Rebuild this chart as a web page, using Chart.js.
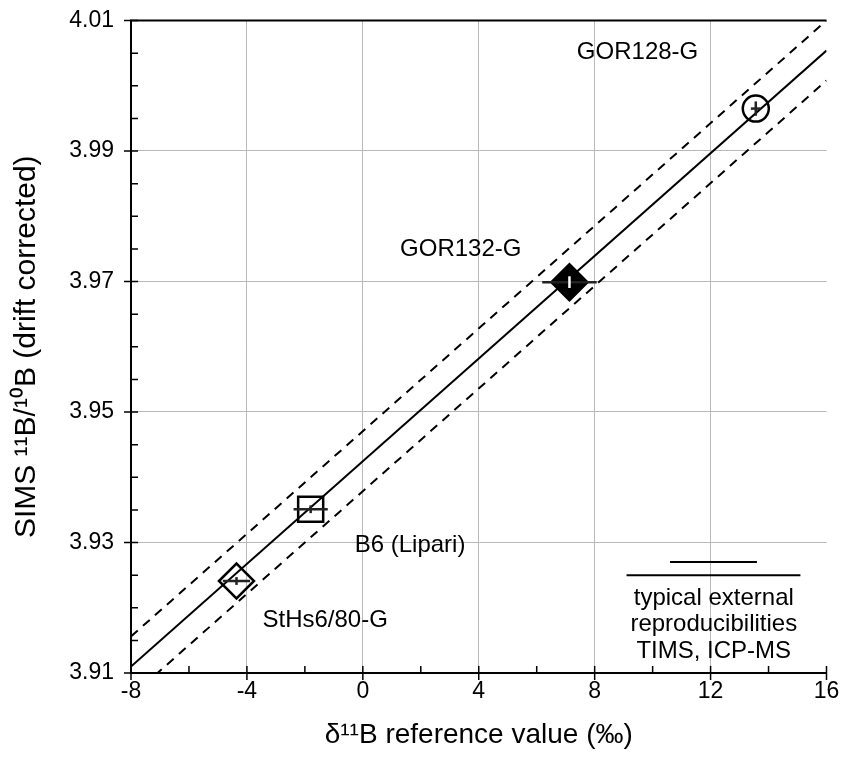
<!DOCTYPE html>
<html><head><meta charset="utf-8">
<script src="https://cdn.jsdelivr.net/npm/chart.js@4/dist/chart.umd.min.js"></script>
<style>html,body{margin:0;padding:0;background:#fff;}canvas{display:block;}</style>
</head><body>
<canvas id="c" width="847" height="760"></canvas>
<script>
// ---- data ----
const sampleNames = ['StHs6/80-G', 'B6 (Lipari)', 'GOR132-G', 'GOR128-G'];
const refDelta    = [-4.36, -1.80, 7.13, 13.56];          // δ11B reference value (‰)
const simsRatio   = [3.9241, 3.9351, 3.9699, 3.9965];     // SIMS 11B/10B (drift corrected)
const deltaErr    = [0.47, 0.59, 0.94, 0.17];
const ratioErr    = [0.0006, 0.0006, 0.0009, 0.0011];
const markerStyle = ['rectRot', 'rect', 'rectRot', 'circle'];
const markerFill  = [false, false, true, false];

const lineX  = [-8, 16];
const fitY   = [3.911, 4.0054];
const upperY = [3.9156, 4.0100];
const lowerY = [3.9064, 4.0008];

const reproShortX = [10.6, 13.6];
const reproShortY = 3.9270;
const reproLongX  = [9.1, 15.1];
const reproLongY  = 3.9250;
const reproText   = ['typical external', 'reproducibilities', 'TIMS, ICP-MS'];
const reproTextX  = 12.11;
const reproTextY  = [3.9215, 3.9174, 3.9133];

const labelX = [-1.3, 1.63, 3.38, 9.48];
const labelY = [3.9180, 3.9296, 3.9749, 4.0051];

const xTicks = [-8, -4, 0, 4, 8, 12, 16];
const xMinor = [-6, -2, 2, 6, 10, 14];
const yTicks = [3.91, 3.93, 3.95, 3.97, 3.99, 4.01];
const yMinor = [3.915, 3.92, 3.925, 3.935, 3.94, 3.945, 3.955, 3.96, 3.965, 3.975, 3.98, 3.985, 3.995, 4.0, 4.005];

const FONT = "'Liberation Sans', Arial, Helvetica, sans-serif";

const pts = (xs, ys) => xs.map((x, i) => ({x: x, y: Array.isArray(ys) ? ys[i] : ys}));

const decor = {
  id: 'decor',
  afterDatasetsDraw(chart) {
    const c = chart.ctx, xs = chart.scales.x, ys = chart.scales.y, a = chart.chartArea;
    c.save();
    // top border
    c.strokeStyle = '#000'; c.lineWidth = 2;
    c.beginPath(); c.moveTo(a.left - 1, a.top); c.lineTo(a.right, a.top); c.stroke();
    // ticks
    c.lineWidth = 1.5;
    c.beginPath();
    xTicks.forEach(v => { const p = xs.getPixelForValue(v); c.moveTo(p, a.bottom + 7); c.lineTo(p, a.bottom - 7); });
    xMinor.forEach(v => { const p = xs.getPixelForValue(v); c.moveTo(p, a.bottom); c.lineTo(p, a.bottom - 7); });
    yTicks.forEach(v => { const p = ys.getPixelForValue(v); c.moveTo(a.left - 7, p); c.lineTo(a.left + 7, p); });
    yMinor.forEach(v => { const p = ys.getPixelForValue(v); c.moveTo(a.left, p); c.lineTo(a.left + 7, p); });
    c.stroke();
    // error bars
    c.lineWidth = 2.5;
    refDelta.forEach((x, i) => {
      const px = xs.getPixelForValue(x), py = ys.getPixelForValue(simsRatio[i]);
      c.strokeStyle = '#222';
      c.beginPath();
      c.moveTo(xs.getPixelForValue(x - deltaErr[i]), py);
      c.lineTo(xs.getPixelForValue(x + deltaErr[i]), py);
      c.stroke();
      c.strokeStyle = markerFill[i] ? '#fff' : '#222';
      c.beginPath();
      c.moveTo(px, ys.getPixelForValue(simsRatio[i] - ratioErr[i]));
      c.lineTo(px, ys.getPixelForValue(simsRatio[i] + ratioErr[i]));
      c.stroke();
    });
    // text
    c.fillStyle = '#000';
    c.font = '24px ' + FONT;
    c.textAlign = 'center'; c.textBaseline = 'middle';
    sampleNames.forEach((n, i) => c.fillText(n, xs.getPixelForValue(labelX[i]), ys.getPixelForValue(labelY[i])));
    reproText.forEach((t, i) => c.fillText(t, xs.getPixelForValue(reproTextX), ys.getPixelForValue(reproTextY[i])));
    c.restore();
  }
};

const gridColor = (ctx, ends) => (ctx.tick && ends.includes(ctx.tick.value)) ? 'rgba(0,0,0,0)' : '#b8b8b8';

new Chart(document.getElementById('c'), {
  type: 'scatter',
  data: {
    datasets: [
      { type: 'line', label: 'fit', data: pts(lineX, fitY), borderColor: '#000', borderWidth: 2, pointRadius: 0, fill: false, clip: 0 },
      { type: 'line', label: 'upper', data: pts(lineX, upperY), borderColor: '#000', borderWidth: 2, borderDash: [9, 7], pointRadius: 0, fill: false, clip: 0 },
      { type: 'line', label: 'lower', data: pts(lineX, lowerY), borderColor: '#000', borderWidth: 2, borderDash: [9, 7], pointRadius: 0, fill: false, clip: 0 },
      { type: 'line', label: 'repro short', data: pts(reproShortX, reproShortY), borderColor: '#000', borderWidth: 2, pointRadius: 0, fill: false },
      { type: 'line', label: 'repro long', data: pts(reproLongX, reproLongY), borderColor: '#000', borderWidth: 2, pointRadius: 0, fill: false },
      { type: 'scatter', label: 'samples', data: pts(refDelta, simsRatio),
        pointStyle: markerStyle, pointRadius: [17.5, 17.7, 18, 13],
        pointBorderWidth: 2.5, pointBorderColor: '#000',
        pointBackgroundColor: markerFill.map(f => f ? '#000' : 'rgba(0,0,0,0)'), clip: false }
    ]
  },
  options: {
    responsive: false, animation: false, devicePixelRatio: 1,
    layout: { padding: { left: 9, right: 16, top: 13, bottom: 8 } },
    plugins: { legend: { display: false }, tooltip: { enabled: false } },
    scales: {
      x: {
        type: 'linear', min: -8, max: 16,
        afterBuildTicks: s => { s.ticks = xTicks.map(v => ({ value: v })); },
        afterFit: s => { s.height = 760 - 8 - 673; s.paddingLeft = 0; s.paddingRight = 0; },
        ticks: { color: '#000', font: { family: FONT, size: 23 }, padding: 5, maxRotation: 0, callback: v => String(v) },
        grid: { color: c => gridColor(c, [-8, 16]), lineWidth: 1, drawTicks: false },
        border: { display: true, color: '#000', width: 2 },
        title: { display: true, text: 'δ¹¹B reference value (‰)', color: '#000', font: { family: FONT, size: 28 }, padding: 0 }
      },
      y: {
        type: 'linear', min: 3.91, max: 4.01,
        afterBuildTicks: s => { s.ticks = yTicks.map(v => ({ value: v })); },
        afterFit: s => { s.width = 131 - 9; s.paddingTop = 0; s.paddingBottom = 0; },
        ticks: { color: '#000', font: { family: FONT, size: 23 }, padding: 17, callback: v => Number(v).toFixed(2) },
        grid: { color: c => gridColor(c, [3.91, 4.01]), lineWidth: 1, drawTicks: false },
        border: { display: true, color: '#000', width: 2 },
        title: { display: true, text: 'SIMS ¹¹B/¹⁰B (drift corrected)', color: '#000', font: { family: FONT, size: 30 }, padding: 0 }
      }
    }
  },
  plugins: [decor]
});
</script>
</body></html>
